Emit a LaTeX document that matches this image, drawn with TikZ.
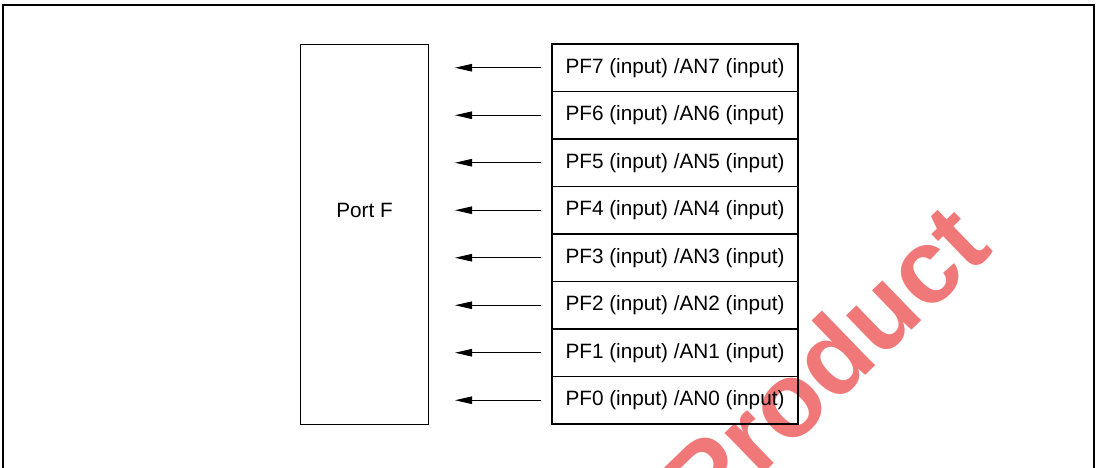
\documentclass[tikz,border=0pt]{standalone}
\usepackage{fontspec}
\setmainfont{Liberation Sans}
\usetikzlibrary{arrows.meta,positioning}
\definecolor{wmred}{RGB}{240,120,120}

\begin{document}
\begin{tikzpicture}[line width=0.6pt, every node/.style={font=\fontsize{11.8}{14}\selectfont},
    pinrow/.style={draw, minimum width=4.92cm, minimum height=0.95cm, inner sep=0pt},
    sig/.style={-{Triangle[length=0.34cm,width=0.15cm]}, line width=0.5pt, shorten <=0.2cm}]
  \useasboundingbox (0,0) rectangle (22,9.36);
  % watermark, sits behind everything
  \node[rotate=44, text=wmred, font=\bfseries\fontsize{60}{60}\selectfont] (wm) at (16.5,2.12) {Product};
  % outer frame, open at the bottom
  \draw[line width=0.8pt] (0.06,-0.1) -- (0.06,9.26) -- (21.88,9.26) -- (21.88,-0.1);
  % port block
  \node[draw, minimum width=2.56cm, minimum height=7.6cm, anchor=north west] (port) at (6.0,8.48) {};
  % pin rows, PF7 on top
  \foreach \i [count=\k from 0] in {7,...,0} {
    \node[pinrow] (pf\i) at (13.5, 8.005-0.95*\k) {PF\i{} (input) /AN\i{} (input)};
    \coordinate (tip\i) at (9.10, 8.005-0.95*\k);
    \draw[sig] (pf\i.west) -- (tip\i);
  }
  \node (portlbl) at (port.center |- pf4) {Port F};
\end{tikzpicture}
\end{document}
